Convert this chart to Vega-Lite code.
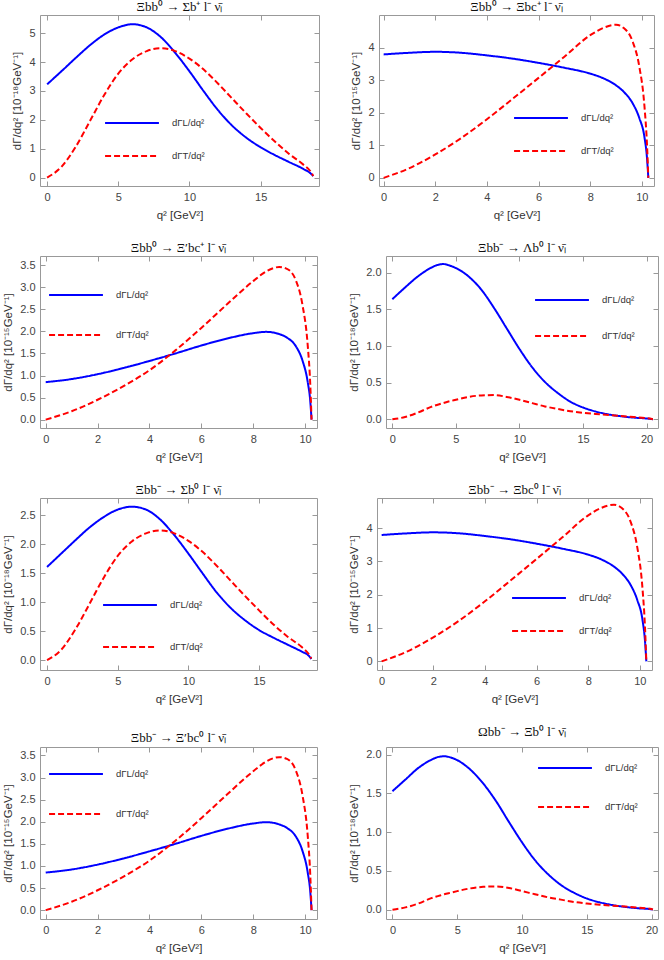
{
  "$schema": "https://vega.github.io/schema/vega-lite/v6.json",
  "padding": {"left": 2, "top": 0, "right": 4, "bottom": 0},
  "spacing": 20,
  "datasets": {
    "sigma": [
      {"q": 0, "L": 3.23, "T": 0},
      {"q": 1, "L": 3.68, "T": 0.37},
      {"q": 2, "L": 4.14, "T": 1.06},
      {"q": 3, "L": 4.58, "T": 1.95},
      {"q": 4, "L": 4.95, "T": 2.85},
      {"q": 5, "L": 5.2, "T": 3.6},
      {"q": 6, "L": 5.31, "T": 4.1},
      {"q": 7, "L": 5.2, "T": 4.38},
      {"q": 8, "L": 4.86, "T": 4.48},
      {"q": 9, "L": 4.32, "T": 4.38},
      {"q": 10, "L": 3.68, "T": 4.12},
      {"q": 11, "L": 2.99, "T": 3.74},
      {"q": 12, "L": 2.34, "T": 3.26},
      {"q": 13, "L": 1.8, "T": 2.74},
      {"q": 14, "L": 1.38, "T": 2.22},
      {"q": 15, "L": 1.05, "T": 1.72},
      {"q": 16, "L": 0.78, "T": 1.25},
      {"q": 17, "L": 0.54, "T": 0.82},
      {"q": 18, "L": 0.3, "T": 0.45},
      {"q": 18.5, "L": 0.15, "T": 0.22},
      {"q": 18.7, "L": 0.05, "T": 0.06}
    ],
    "xibc": [
      {"q": 0, "L": 3.79, "T": 0},
      {"q": 1, "L": 3.84, "T": 0.3},
      {"q": 2, "L": 3.87, "T": 0.72},
      {"q": 3, "L": 3.84, "T": 1.22},
      {"q": 4, "L": 3.76, "T": 1.8},
      {"q": 5, "L": 3.66, "T": 2.43},
      {"q": 6, "L": 3.53, "T": 3.07},
      {"q": 7, "L": 3.38, "T": 3.72},
      {"q": 8, "L": 3.2, "T": 4.38},
      {"q": 8.5, "L": 3.06, "T": 4.6},
      {"q": 9, "L": 2.84, "T": 4.7},
      {"q": 9.3, "L": 2.64, "T": 4.6},
      {"q": 9.65, "L": 2.28, "T": 4.17},
      {"q": 9.9, "L": 1.84, "T": 3.42},
      {"q": 10.1, "L": 1.25, "T": 2.2},
      {"q": 10.2, "L": 0.6, "T": 1.0},
      {"q": 10.25, "L": 0, "T": 0}
    ],
    "xibcp": [
      {"q": 0, "L": 0.85, "T": 0},
      {"q": 1, "L": 0.92, "T": 0.19},
      {"q": 2, "L": 1.03, "T": 0.45},
      {"q": 3, "L": 1.17, "T": 0.76},
      {"q": 4, "L": 1.33, "T": 1.12},
      {"q": 5, "L": 1.5, "T": 1.57},
      {"q": 6, "L": 1.68, "T": 2.08},
      {"q": 7, "L": 1.84, "T": 2.62},
      {"q": 8, "L": 1.96, "T": 3.14},
      {"q": 8.5, "L": 1.99, "T": 3.36},
      {"q": 9, "L": 1.94, "T": 3.46},
      {"q": 9.3, "L": 1.86, "T": 3.42},
      {"q": 9.65, "L": 1.66, "T": 3.15},
      {"q": 9.9, "L": 1.34, "T": 2.6},
      {"q": 10.1, "L": 0.86, "T": 1.7},
      {"q": 10.2, "L": 0.42, "T": 0.8},
      {"q": 10.25, "L": 0, "T": 0}
    ],
    "lambda": [
      {"q": 0, "L": 1.64, "T": 0},
      {"q": 1, "L": 1.8, "T": 0.03},
      {"q": 2, "L": 1.95, "T": 0.09},
      {"q": 3, "L": 2.065, "T": 0.165},
      {"q": 3.5, "L": 2.105, "T": 0.195},
      {"q": 4, "L": 2.12, "T": 0.22},
      {"q": 4.5, "L": 2.1, "T": 0.245},
      {"q": 5, "L": 2.065, "T": 0.265},
      {"q": 6, "L": 1.95, "T": 0.305},
      {"q": 7, "L": 1.77, "T": 0.325},
      {"q": 8, "L": 1.52, "T": 0.33},
      {"q": 9, "L": 1.24, "T": 0.305},
      {"q": 10, "L": 0.96, "T": 0.265},
      {"q": 11, "L": 0.71, "T": 0.22},
      {"q": 12, "L": 0.51, "T": 0.175},
      {"q": 13, "L": 0.36, "T": 0.14},
      {"q": 14, "L": 0.24, "T": 0.11},
      {"q": 15, "L": 0.16, "T": 0.088},
      {"q": 16, "L": 0.105, "T": 0.072},
      {"q": 17, "L": 0.066, "T": 0.058},
      {"q": 18, "L": 0.04, "T": 0.044},
      {"q": 19, "L": 0.022, "T": 0.03},
      {"q": 20, "L": 0.01, "T": 0.014},
      {"q": 20.5, "L": 0, "T": 0}
    ],
    "sigma0": [
      {"q": 0, "L": 1.61, "T": 0},
      {"q": 1, "L": 1.84, "T": 0.18},
      {"q": 2, "L": 2.07, "T": 0.53},
      {"q": 3, "L": 2.29, "T": 0.97},
      {"q": 4, "L": 2.47, "T": 1.42},
      {"q": 5, "L": 2.6, "T": 1.8},
      {"q": 6, "L": 2.65, "T": 2.05},
      {"q": 7, "L": 2.6, "T": 2.19},
      {"q": 8, "L": 2.43, "T": 2.24},
      {"q": 9, "L": 2.16, "T": 2.19},
      {"q": 10, "L": 1.84, "T": 2.06},
      {"q": 11, "L": 1.5, "T": 1.87},
      {"q": 12, "L": 1.17, "T": 1.63},
      {"q": 13, "L": 0.9, "T": 1.37},
      {"q": 14, "L": 0.69, "T": 1.11},
      {"q": 15, "L": 0.52, "T": 0.86},
      {"q": 16, "L": 0.39, "T": 0.62},
      {"q": 17, "L": 0.27, "T": 0.41},
      {"q": 18, "L": 0.15, "T": 0.23},
      {"q": 18.5, "L": 0.08, "T": 0.11},
      {"q": 18.7, "L": 0.02, "T": 0.03}
    ],
    "xib": [
      {"q": 0, "L": 1.53, "T": 0},
      {"q": 1, "L": 1.68, "T": 0.03},
      {"q": 2, "L": 1.83, "T": 0.08},
      {"q": 3, "L": 1.935, "T": 0.15},
      {"q": 3.5, "L": 1.97, "T": 0.175},
      {"q": 4, "L": 1.98, "T": 0.2},
      {"q": 4.5, "L": 1.965, "T": 0.22},
      {"q": 5, "L": 1.93, "T": 0.24},
      {"q": 6, "L": 1.81, "T": 0.275},
      {"q": 7, "L": 1.63, "T": 0.295},
      {"q": 8, "L": 1.4, "T": 0.3},
      {"q": 9, "L": 1.13, "T": 0.28},
      {"q": 10, "L": 0.87, "T": 0.24},
      {"q": 11, "L": 0.64, "T": 0.2},
      {"q": 12, "L": 0.46, "T": 0.16},
      {"q": 13, "L": 0.32, "T": 0.13},
      {"q": 14, "L": 0.22, "T": 0.1},
      {"q": 15, "L": 0.145, "T": 0.08},
      {"q": 16, "L": 0.095, "T": 0.065},
      {"q": 17, "L": 0.06, "T": 0.052},
      {"q": 18, "L": 0.035, "T": 0.04},
      {"q": 19, "L": 0.018, "T": 0.025},
      {"q": 20, "L": 0.005, "T": 0.008},
      {"q": 20.1, "L": 0, "T": 0}
    ]
  },
  "vconcat": [
    {
      "hconcat": [
        {
          "title": "Ξbb⁰ → Σb⁺ l⁻ ν̄ₗ",
          "width": 279, "height": 171,
          "data": {"name": "sigma"},
          "transform": [{"fold": ["L", "T"], "as": ["key", "v"]}],
          "layer": [
            {
              "mark": {"type": "line", "strokeWidth": 2, "interpolate": "monotone"},
              "encoding": {
                "x": {"field": "q", "type": "quantitative", "scale": {"domain": [-0.5, 19.1], "nice": false, "zero": false}, "axis": {"values": [0, 5, 10, 15], "title": "q² [GeV²]"}},
                "y": {"field": "v", "type": "quantitative", "scale": {"domain": [-0.29, 5.63], "nice": false, "zero": false}, "axis": {"values": [0, 1, 2, 3, 4, 5], "title": "dΓ/dq² [10⁻¹⁸GeV⁻¹]"}},
                "color": {"field": "key", "type": "nominal", "scale": {"domain": ["L", "T"], "range": ["#0000ff", "#ff0000"]}, "legend": {"title": null, "legendX": 64, "legendY": 80, "labelExpr": "datum.label == 'L' ? 'dΓL/dq²' : 'dΓT/dq²'"}},
                "strokeDash": {"field": "key", "type": "nominal", "scale": {"domain": ["L", "T"], "range": [[1, 0], [6, 3]]}, "legend": {"title": null, "legendX": 64, "legendY": 80, "labelExpr": "datum.label == 'L' ? 'dΓL/dq²' : 'dΓT/dq²'"}}
              }
            },
            {
              "mark": {"type": "line", "opacity": 0},
              "encoding": {
                "x": {"field": "q", "type": "quantitative", "scale": {"domain": [-0.5, 19.1], "nice": false, "zero": false}, "axis": {"orient": "top", "values": [0, 5, 10, 15], "labels": false, "title": null}},
                "y": {"field": "v", "type": "quantitative", "scale": {"domain": [-0.29, 5.63], "nice": false, "zero": false}, "axis": {"orient": "right", "values": [0, 1, 2, 3, 4, 5], "labels": false, "title": null}},
                "detail": {"field": "key"}
              }
            }
          ],
          "resolve": {"axis": {"x": "independent", "y": "independent"}}
        },
        {
          "title": "Ξbb⁰ → Ξbc⁺ l⁻ ν̄ₗ",
          "width": 275, "height": 171,
          "data": {"name": "xibc"},
          "transform": [{"fold": ["L", "T"], "as": ["key", "v"]}],
          "layer": [
            {
              "mark": {"type": "line", "strokeWidth": 2, "interpolate": "monotone"},
              "encoding": {
                "x": {"field": "q", "type": "quantitative", "scale": {"domain": [-0.18, 10.47], "nice": false, "zero": false}, "axis": {"values": [0, 2, 4, 6, 8, 10], "title": "q² [GeV²]"}},
                "y": {"field": "v", "type": "quantitative", "scale": {"domain": [-0.25, 5.0], "nice": false, "zero": false}, "axis": {"values": [0, 1, 2, 3, 4], "title": "dΓ/dq² [10⁻¹⁵GeV⁻¹]"}},
                "color": {"field": "key", "type": "nominal", "scale": {"domain": ["L", "T"], "range": ["#0000ff", "#ff0000"]}, "legend": {"title": null, "legendX": 134, "legendY": 75, "labelExpr": "datum.label == 'L' ? 'dΓL/dq²' : 'dΓT/dq²'"}},
                "strokeDash": {"field": "key", "type": "nominal", "scale": {"domain": ["L", "T"], "range": [[1, 0], [6, 3]]}, "legend": {"title": null, "legendX": 134, "legendY": 75, "labelExpr": "datum.label == 'L' ? 'dΓL/dq²' : 'dΓT/dq²'"}}
              }
            },
            {
              "mark": {"type": "line", "opacity": 0},
              "encoding": {
                "x": {"field": "q", "type": "quantitative", "scale": {"domain": [-0.18, 10.47], "nice": false, "zero": false}, "axis": {"orient": "top", "values": [0, 2, 4, 6, 8, 10], "labels": false, "title": null}},
                "y": {"field": "v", "type": "quantitative", "scale": {"domain": [-0.25, 5.0], "nice": false, "zero": false}, "axis": {"orient": "right", "values": [0, 1, 2, 3, 4], "labels": false, "title": null}},
                "detail": {"field": "key"}
              }
            }
          ],
          "resolve": {"axis": {"x": "independent", "y": "independent"}}
        }
      ],
      "spacing": 30,
      "resolve": {"scale": {"color": "independent", "strokeDash": "independent"}}
    },
    {
      "hconcat": [
        {
          "title": "Ξbb⁰ → Ξ′bc⁺ l⁻ ν̄ₗ",
          "width": 277, "height": 172,
          "data": {"name": "xibcp"},
          "transform": [{"fold": ["L", "T"], "as": ["key", "v"]}],
          "layer": [
            {
              "mark": {"type": "line", "strokeWidth": 2, "interpolate": "monotone"},
              "encoding": {
                "x": {"field": "q", "type": "quantitative", "scale": {"domain": [-0.22, 10.46], "nice": false, "zero": false}, "axis": {"values": [0, 2, 4, 6, 8, 10], "title": "q² [GeV²]"}},
                "y": {"field": "v", "type": "quantitative", "scale": {"domain": [-0.19, 3.71], "nice": false, "zero": false}, "axis": {"values": [0, 0.5, 1, 1.5, 2, 2.5, 3, 3.5], "format": ".1f", "title": "dΓ/dq² [10⁻¹⁵GeV⁻¹]"}},
                "color": {"field": "key", "type": "nominal", "scale": {"domain": ["L", "T"], "range": ["#0000ff", "#ff0000"]}, "legend": {"title": null, "legendX": 8, "legendY": 11, "rowPadding": 7, "labelExpr": "datum.label == 'L' ? 'dΓL/dq²' : 'dΓT/dq²'"}},
                "strokeDash": {"field": "key", "type": "nominal", "scale": {"domain": ["L", "T"], "range": [[1, 0], [6, 3]]}, "legend": {"title": null, "legendX": 8, "legendY": 11, "rowPadding": 7, "labelExpr": "datum.label == 'L' ? 'dΓL/dq²' : 'dΓT/dq²'"}}
              }
            },
            {
              "mark": {"type": "line", "opacity": 0},
              "encoding": {
                "x": {"field": "q", "type": "quantitative", "scale": {"domain": [-0.22, 10.46], "nice": false, "zero": false}, "axis": {"orient": "top", "values": [0, 2, 4, 6, 8, 10], "labels": false, "title": null}},
                "y": {"field": "v", "type": "quantitative", "scale": {"domain": [-0.19, 3.71], "nice": false, "zero": false}, "axis": {"orient": "right", "values": [0, 0.5, 1, 1.5, 2, 2.5, 3, 3.5], "labels": false, "title": null}},
                "detail": {"field": "key"}
              }
            }
          ],
          "resolve": {"axis": {"x": "independent", "y": "independent"}}
        },
        {
          "title": "Ξbb⁻ → Λb⁰ l⁻ ν̄ₗ",
          "width": 272, "height": 172,
          "data": {"name": "lambda"},
          "transform": [{"fold": ["L", "T"], "as": ["key", "v"]}],
          "layer": [
            {
              "mark": {"type": "line", "strokeWidth": 2, "interpolate": "monotone"},
              "encoding": {
                "x": {"field": "q", "type": "quantitative", "scale": {"domain": [-0.5, 20.9], "nice": false, "zero": false}, "axis": {"values": [0, 5, 10, 15, 20], "title": "q² [GeV²]"}},
                "y": {"field": "v", "type": "quantitative", "scale": {"domain": [-0.12, 2.23], "nice": false, "zero": false}, "axis": {"values": [0, 0.5, 1, 1.5, 2], "format": ".1f", "title": "dΓ/dq² [10⁻¹⁸GeV⁻¹]"}},
                "color": {"field": "key", "type": "nominal", "scale": {"domain": ["L", "T"], "range": ["#0000ff", "#ff0000"]}, "legend": {"title": null, "legendX": 148, "legendY": 16, "rowPadding": 3, "labelExpr": "datum.label == 'L' ? 'dΓL/dq²' : 'dΓT/dq²'"}},
                "strokeDash": {"field": "key", "type": "nominal", "scale": {"domain": ["L", "T"], "range": [[1, 0], [6, 3]]}, "legend": {"title": null, "legendX": 148, "legendY": 16, "rowPadding": 3, "labelExpr": "datum.label == 'L' ? 'dΓL/dq²' : 'dΓT/dq²'"}}
              }
            },
            {
              "mark": {"type": "line", "opacity": 0},
              "encoding": {
                "x": {"field": "q", "type": "quantitative", "scale": {"domain": [-0.5, 20.9], "nice": false, "zero": false}, "axis": {"orient": "top", "values": [0, 5, 10, 15, 20], "labels": false, "title": null}},
                "y": {"field": "v", "type": "quantitative", "scale": {"domain": [-0.12, 2.23], "nice": false, "zero": false}, "axis": {"orient": "right", "values": [0, 0.5, 1, 1.5, 2], "labels": false, "title": null}},
                "detail": {"field": "key"}
              }
            }
          ],
          "resolve": {"axis": {"x": "independent", "y": "independent"}}
        }
      ],
      "spacing": 30,
      "resolve": {"scale": {"color": "independent", "strokeDash": "independent"}}
    },
    {
      "hconcat": [
        {
          "title": "Ξbb⁻ → Σb⁰ l⁻ ν̄ₗ",
          "width": 277, "height": 172,
          "data": {"name": "sigma0"},
          "transform": [{"fold": ["L", "T"], "as": ["key", "v"]}],
          "layer": [
            {
              "mark": {"type": "line", "strokeWidth": 2, "interpolate": "monotone"},
              "encoding": {
                "x": {"field": "q", "type": "quantitative", "scale": {"domain": [-0.5, 19.1], "nice": false, "zero": false}, "axis": {"values": [0, 5, 10, 15], "title": "q² [GeV²]"}},
                "y": {"field": "v", "type": "quantitative", "scale": {"domain": [-0.17, 2.8], "nice": false, "zero": false}, "axis": {"values": [0, 0.5, 1, 1.5, 2, 2.5], "format": ".1f", "title": "dΓ/dq² [10⁻¹⁸GeV⁻¹]"}},
                "color": {"field": "key", "type": "nominal", "scale": {"domain": ["L", "T"], "range": ["#0000ff", "#ff0000"]}, "legend": {"title": null, "legendX": 62, "legendY": 79, "rowPadding": 9, "labelExpr": "datum.label == 'L' ? 'dΓL/dq²' : 'dΓT/dq²'"}},
                "strokeDash": {"field": "key", "type": "nominal", "scale": {"domain": ["L", "T"], "range": [[1, 0], [6, 3]]}, "legend": {"title": null, "legendX": 62, "legendY": 79, "rowPadding": 9, "labelExpr": "datum.label == 'L' ? 'dΓL/dq²' : 'dΓT/dq²'"}}
              }
            },
            {
              "mark": {"type": "line", "opacity": 0},
              "encoding": {
                "x": {"field": "q", "type": "quantitative", "scale": {"domain": [-0.5, 19.1], "nice": false, "zero": false}, "axis": {"orient": "top", "values": [0, 5, 10, 15], "labels": false, "title": null}},
                "y": {"field": "v", "type": "quantitative", "scale": {"domain": [-0.17, 2.8], "nice": false, "zero": false}, "axis": {"orient": "right", "values": [0, 0.5, 1, 1.5, 2, 2.5], "labels": false, "title": null}},
                "detail": {"field": "key"}
              }
            }
          ],
          "resolve": {"axis": {"x": "independent", "y": "independent"}}
        },
        {
          "title": "Ξbb⁻ → Ξbc⁰ l⁻ ν̄ₗ",
          "width": 275, "height": 172,
          "data": {"name": "xibc"},
          "transform": [{"fold": ["L", "T"], "as": ["key", "v"]}],
          "layer": [
            {
              "mark": {"type": "line", "strokeWidth": 2, "interpolate": "monotone"},
              "encoding": {
                "x": {"field": "q", "type": "quantitative", "scale": {"domain": [-0.18, 10.47], "nice": false, "zero": false}, "axis": {"values": [0, 2, 4, 6, 8, 10], "title": "q² [GeV²]"}},
                "y": {"field": "v", "type": "quantitative", "scale": {"domain": [-0.26, 4.9], "nice": false, "zero": false}, "axis": {"values": [0, 1, 2, 3, 4], "title": "dΓ/dq² [10⁻¹⁵GeV⁻¹]"}},
                "color": {"field": "key", "type": "nominal", "scale": {"domain": ["L", "T"], "range": ["#0000ff", "#ff0000"]}, "legend": {"title": null, "legendX": 134, "legendY": 72, "labelExpr": "datum.label == 'L' ? 'dΓL/dq²' : 'dΓT/dq²'"}},
                "strokeDash": {"field": "key", "type": "nominal", "scale": {"domain": ["L", "T"], "range": [[1, 0], [6, 3]]}, "legend": {"title": null, "legendX": 134, "legendY": 72, "labelExpr": "datum.label == 'L' ? 'dΓL/dq²' : 'dΓT/dq²'"}}
              }
            },
            {
              "mark": {"type": "line", "opacity": 0},
              "encoding": {
                "x": {"field": "q", "type": "quantitative", "scale": {"domain": [-0.18, 10.47], "nice": false, "zero": false}, "axis": {"orient": "top", "values": [0, 2, 4, 6, 8, 10], "labels": false, "title": null}},
                "y": {"field": "v", "type": "quantitative", "scale": {"domain": [-0.26, 4.9], "nice": false, "zero": false}, "axis": {"orient": "right", "values": [0, 1, 2, 3, 4], "labels": false, "title": null}},
                "detail": {"field": "key"}
              }
            }
          ],
          "resolve": {"axis": {"x": "independent", "y": "independent"}}
        }
      ],
      "spacing": 30,
      "resolve": {"scale": {"color": "independent", "strokeDash": "independent"}}
    },
    {
      "hconcat": [
        {
          "title": "Ξbb⁻ → Ξ′bc⁰ l⁻ ν̄ₗ",
          "width": 277, "height": 172,
          "data": {"name": "xibcp"},
          "transform": [{"fold": ["L", "T"], "as": ["key", "v"]}],
          "layer": [
            {
              "mark": {"type": "line", "strokeWidth": 2, "interpolate": "monotone"},
              "encoding": {
                "x": {"field": "q", "type": "quantitative", "scale": {"domain": [-0.22, 10.46], "nice": false, "zero": false}, "axis": {"values": [0, 2, 4, 6, 8, 10], "title": "q² [GeV²]"}},
                "y": {"field": "v", "type": "quantitative", "scale": {"domain": [-0.2, 3.69], "nice": false, "zero": false}, "axis": {"values": [0, 0.5, 1, 1.5, 2, 2.5, 3, 3.5], "format": ".1f", "title": "dΓ/dq² [10⁻¹⁵GeV⁻¹]"}},
                "color": {"field": "key", "type": "nominal", "scale": {"domain": ["L", "T"], "range": ["#0000ff", "#ff0000"]}, "legend": {"title": null, "legendX": 8, "legendY": -1, "rowPadding": 7, "labelExpr": "datum.label == 'L' ? 'dΓL/dq²' : 'dΓT/dq²'"}},
                "strokeDash": {"field": "key", "type": "nominal", "scale": {"domain": ["L", "T"], "range": [[1, 0], [6, 3]]}, "legend": {"title": null, "legendX": 8, "legendY": -1, "rowPadding": 7, "labelExpr": "datum.label == 'L' ? 'dΓL/dq²' : 'dΓT/dq²'"}}
              }
            },
            {
              "mark": {"type": "line", "opacity": 0},
              "encoding": {
                "x": {"field": "q", "type": "quantitative", "scale": {"domain": [-0.22, 10.46], "nice": false, "zero": false}, "axis": {"orient": "top", "values": [0, 2, 4, 6, 8, 10], "labels": false, "title": null}},
                "y": {"field": "v", "type": "quantitative", "scale": {"domain": [-0.2, 3.69], "nice": false, "zero": false}, "axis": {"orient": "right", "values": [0, 0.5, 1, 1.5, 2, 2.5, 3, 3.5], "labels": false, "title": null}},
                "detail": {"field": "key"}
              }
            }
          ],
          "resolve": {"axis": {"x": "independent", "y": "independent"}}
        },
        {
          "title": "Ωbb⁻ → Ξb⁰ l⁻ ν̄ₗ",
          "width": 272, "height": 172,
          "data": {"name": "xib"},
          "transform": [{"fold": ["L", "T"], "as": ["key", "v"]}],
          "layer": [
            {
              "mark": {"type": "line", "strokeWidth": 2, "interpolate": "monotone"},
              "encoding": {
                "x": {"field": "q", "type": "quantitative", "scale": {"domain": [-0.5, 20.5], "nice": false, "zero": false}, "axis": {"values": [0, 5, 10, 15, 20], "title": "q² [GeV²]"}},
                "y": {"field": "v", "type": "quantitative", "scale": {"domain": [-0.12, 2.1], "nice": false, "zero": false}, "axis": {"values": [0, 0.5, 1, 1.5, 2], "format": ".1f", "title": "dΓ/dq² [10⁻¹⁸GeV⁻¹]"}},
                "color": {"field": "key", "type": "nominal", "scale": {"domain": ["L", "T"], "range": ["#0000ff", "#ff0000"]}, "legend": {"title": null, "legendX": 151, "legendY": -7, "rowPadding": 6, "labelExpr": "datum.label == 'L' ? 'dΓL/dq²' : 'dΓT/dq²'"}},
                "strokeDash": {"field": "key", "type": "nominal", "scale": {"domain": ["L", "T"], "range": [[1, 0], [6, 3]]}, "legend": {"title": null, "legendX": 151, "legendY": -7, "rowPadding": 6, "labelExpr": "datum.label == 'L' ? 'dΓL/dq²' : 'dΓT/dq²'"}}
              }
            },
            {
              "mark": {"type": "line", "opacity": 0},
              "encoding": {
                "x": {"field": "q", "type": "quantitative", "scale": {"domain": [-0.5, 20.5], "nice": false, "zero": false}, "axis": {"orient": "top", "values": [0, 5, 10, 15, 20], "labels": false, "title": null}},
                "y": {"field": "v", "type": "quantitative", "scale": {"domain": [-0.12, 2.1], "nice": false, "zero": false}, "axis": {"orient": "right", "values": [0, 0.5, 1, 1.5, 2], "labels": false, "title": null}},
                "detail": {"field": "key"}
              }
            }
          ],
          "resolve": {"axis": {"x": "independent", "y": "independent"}}
        }
      ],
      "spacing": 30,
      "resolve": {"scale": {"color": "independent", "strokeDash": "independent"}}
    }
  ],
  "resolve": {"scale": {"color": "independent", "strokeDash": "independent"}},
  "config": {
    "view": {"stroke": "#999999", "strokeWidth": 1},
    "title": {"font": "Liberation Serif", "fontSize": 13, "fontWeight": "normal", "color": "#111111", "offset": 1},
    "axis": {
      "grid": false,
      "domain": false,
      "tickColor": "#999999",
      "tickSize": -5,
      "labelFont": "Liberation Sans",
      "labelFontSize": 11,
      "labelColor": "#444444",
      "titleFont": "Liberation Sans",
      "titleFontSize": 11.5,
      "titleFontWeight": "normal",
      "titleColor": "#333333"
    },
    "axisX": {"labelPadding": 10, "titlePadding": 7},
    "axisY": {"labelPadding": 10, "titlePadding": 6},
    "axisTop": {"labelPadding": 0, "titlePadding": 0},
    "axisRight": {"labelPadding": 0, "titlePadding": 0},
    "legend": {
      "orient": "none",
      "symbolType": "stroke",
      "symbolSize": 2900,
      "symbolStrokeWidth": 2,
      "labelFont": "Liberation Sans",
      "labelFontSize": 9.5,
      "labelColor": "#333333",
      "labelOffset": 12,
      "padding": 0,
      "rowPadding": 0
    }
  }
}
